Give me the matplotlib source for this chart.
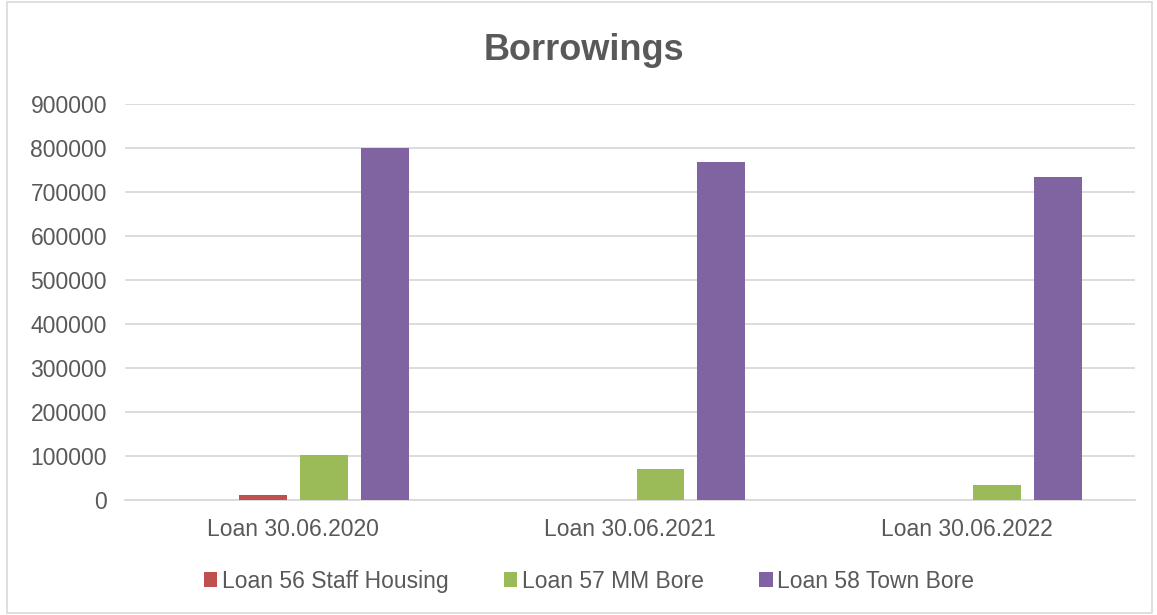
import matplotlib
matplotlib.use("Agg")
import matplotlib.pyplot as plt
from matplotlib.patches import Rectangle
import numpy as np

plt.rcParams['font.family'] = ['Liberation Sans', 'DejaVu Sans']

categories = ["Loan 30.06.2020", "Loan 30.06.2021", "Loan 30.06.2022"]
series_names = ["Loan 55", "Loan 56 Staff Housing", "Loan 57 MM Bore", "Loan 58 Town Bore"]
loan55 = [0, 0, 0]
loan56 = [11000, 0, 0]
loan57 = [103000, 70000, 35000]
loan58 = [800000, 768000, 734000]
series_values = [loan55, loan56, loan57, loan58]
colors = ["#4F81BD", "#C0504D", "#9BBB59", "#8064A2"]
in_legend = [False, True, True, True]
yticks = [0, 100000, 200000, 300000, 400000, 500000, 600000, 700000, 800000, 900000]

text_color = "#595959"
grid_color = "#D9D9D9"

fig = plt.figure(figsize=(11.57, 6.15), dpi=100)
fig.patches.append(Rectangle((0.006, 0.003), 0.99, 0.993, transform=fig.transFigure,
                             fill=False, edgecolor="#D9D9D9", linewidth=1.2))
ax = fig.add_axes([0.108, 0.187, 0.873, 0.644])

x = np.arange(len(categories))
slot = 0.181
width = 0.142
handles = []
for i, (name, vals, col) in enumerate(zip(series_names, series_values, colors)):
    offs = (i - 1.5) * slot
    b = ax.bar(x + offs, vals, width=width, color=col, zorder=3,
               label=name if in_legend[i] else "_nolegend_")
    if in_legend[i]:
        handles.append(b)

ax.set_xlim(-0.5, len(categories) - 0.5)
ax.set_ylim(0, 900000)
ax.set_yticks(yticks)
ax.set_yticklabels([str(v) for v in yticks])
ax.set_xticks(x)
ax.set_xticklabels(categories)
ax.grid(axis="y", color=grid_color, linewidth=1.3, zorder=0)
ax.tick_params(axis="both", length=0, labelsize=16.5, labelcolor=text_color)
ax.tick_params(axis="x", pad=13)
ax.tick_params(axis="y", pad=13)
for s in ["top", "right", "left"]:
    ax.spines[s].set_visible(False)
ax.spines["bottom"].set_color(grid_color)
ax.spines["bottom"].set_linewidth(1.3)

fig.text(0.505, 0.918, "Borrowings", ha="center", va="center", fontsize=26,
         fontweight="bold", color=text_color)

leg = fig.legend(handles=handles, loc="center", bbox_to_anchor=(0.509, 0.055),
                 ncol=3, frameon=False, fontsize=16.5, handlelength=0.6,
                 handleheight=0.6, handletextpad=0.2, columnspacing=2.4)
for t in leg.get_texts():
    t.set_color(text_color)

fig.savefig("out.png", dpi=100)
